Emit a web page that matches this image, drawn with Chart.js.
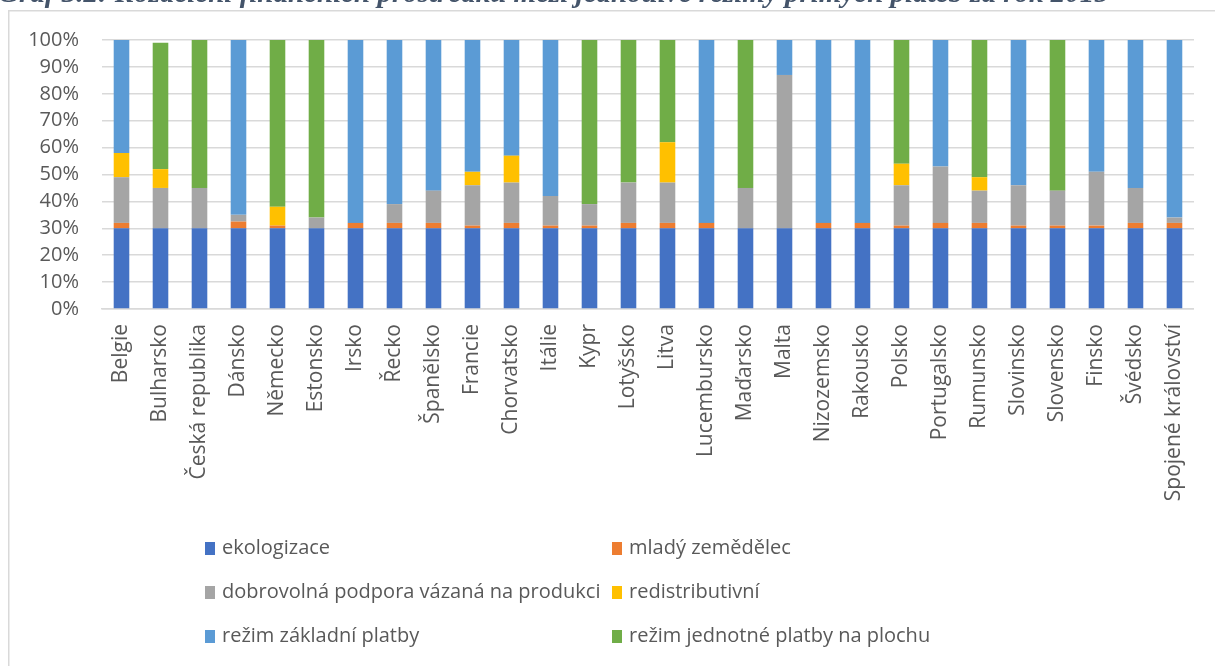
<!DOCTYPE html>
<html lang="cs">
<head>
<meta charset="utf-8">
<title>Rozdělení finančních prostředků mezi režimy přímých plateb 2015</title>
<script src="https://cdn.jsdelivr.net/npm/chart.js@4/dist/chart.umd.min.js"></script>
<style>
  html, body { margin: 0; padding: 0; background: #ffffff; overflow: hidden; }
  #wrap { position: relative; width: 1215px; height: 666px; }
  canvas { display: block; }
</style>
</head>
<body>
<div id="wrap"><canvas id="c" width="1215" height="666"></canvas></div>
<script>
// Členské státy EU
const categories = [
  'Belgie', 'Bulharsko', 'Česká republika', 'Dánsko', 'Německo', 'Estonsko', 'Irsko',
  'Řecko', 'Španělsko', 'Francie', 'Chorvatsko', 'Itálie', 'Kypr', 'Lotyšsko', 'Litva',
  'Lucembursko', 'Maďarsko', 'Malta', 'Nizozemsko', 'Rakousko', 'Polsko', 'Portugalsko',
  'Rumunsko', 'Slovinsko', 'Slovensko', 'Finsko', 'Švédsko', 'Spojené království'
];

// Podíly jednotlivých režimů (v %)
const ekologizace = [30, 30, 30, 30, 30, 30, 30, 30, 30, 30, 30, 30, 30, 30, 30, 30, 30, 30, 30, 30, 30, 30, 30, 30, 30, 30, 30, 30];
const mladyZemedelec = [2, 0, 0, 2.5, 1, 0, 2, 2, 2, 1, 2, 1, 1, 2, 2, 2, 0, 0, 2, 2, 1, 2, 2, 1, 1, 1, 2, 2];
const vazanaPodpora = [17, 15, 15, 2.5, 0, 4, 0, 7, 12, 15, 15, 11, 8, 15, 15, 0, 15, 57, 0, 0, 15, 21, 12, 15, 13, 20, 13, 2];
const redistributivni = [9, 7, 0, 0, 7, 0, 0, 0, 0, 5, 10, 0, 0, 0, 15, 0, 0, 0, 0, 0, 8, 0, 5, 0, 0, 0, 0, 0];
const zakladniPlatba = [42, 0, 0, 65, 0, 0, 68, 61, 56, 49, 43, 58, 0, 0, 0, 68, 0, 13, 68, 68, 0, 47, 0, 54, 0, 49, 55, 66];
const jednotnaPlatba = [0, 47, 55, 0, 62, 66, 0, 0, 0, 0, 0, 0, 61, 53, 38, 0, 55, 0, 0, 0, 46, 0, 51, 0, 56, 0, 0, 0];

const yTicks = [0, 10, 20, 30, 40, 50, 60, 70, 80, 90, 100];

const seriesNames = [
  'ekologizace', 'mladý zemědělec', 'dobrovolná podpora vázaná na produkci',
  'redistributivní', 'režim základní platby', 'režim jednotné platby na plochu'
];
const seriesValues = [ekologizace, mladyZemedelec, vazanaPodpora, redistributivni, zakladniPlatba, jednotnaPlatba];
const seriesColors = ['#4472C4', '#ED7D31', '#A5A5A5', '#FFC000', '#5B9BD5', '#70AD47'];

const FONT = '"Open Sans", "DejaVu Sans", sans-serif';
const TEXT = '#595959';

// Rámeček grafu a popisek nad ním
const framePlugin = {
  id: 'frame',
  beforeDraw(chart) {
    const ctx = chart.ctx;
    ctx.save();
    ctx.strokeStyle = '#D9D9D9';
    ctx.lineWidth = 1.5;
    ctx.strokeRect(8.75, 10.75, 1220, 700);
    ctx.font = 'italic bold 29px "Liberation Serif", "DejaVu Serif", serif';
    ctx.fillStyle = '#44546A';
    ctx.textBaseline = 'alphabetic';
    ctx.textAlign = 'left';
    ctx.fillText('Graf 3.2: Rozdělení finančních prostředků mezi jednotlivé režimy přímých plateb za rok 2015', -2, 2);
    ctx.restore();
  }
};

// Legenda ve dvou sloupcích
const gridLegend = {
  id: 'gridLegend',
  afterDraw(chart) {
    const ctx = chart.ctx;
    const cols = [205, 612];
    const rows = [548, 592, 636];
    ctx.save();
    ctx.font = '20px ' + FONT;
    ctx.textBaseline = 'middle';
    ctx.textAlign = 'left';
    chart.data.datasets.forEach((ds, i) => {
      const x = cols[i % 2];
      const y = rows[Math.floor(i / 2)];
      ctx.fillStyle = ds.backgroundColor;
      ctx.fillRect(x, y - 6, 10, 13);
      ctx.fillStyle = TEXT;
      ctx.fillText(ds.label, x + 17, y);
    });
    ctx.restore();
  }
};

new Chart(document.getElementById('c'), {
  type: 'bar',
  data: {
    labels: categories,
    datasets: seriesNames.map((name, i) => ({
      label: name,
      data: seriesValues[i],
      backgroundColor: seriesColors[i],
      borderWidth: 0,
      categoryPercentage: 1.0,
      barPercentage: 0.4
    }))
  },
  options: {
    responsive: false,
    animation: false,
    devicePixelRatio: 1,
    layout: { padding: { top: 40, right: 18, bottom: 0, left: 0 } },
    plugins: {
      legend: { display: false },
      tooltip: { enabled: false },
      title: { display: false }
    },
    scales: {
      x: {
        stacked: true,
        grid: { display: false, drawTicks: false },
        border: { display: true, color: '#D9D9D9', width: 1.5 },
        ticks: {
          autoSkip: false,
          minRotation: 90,
          maxRotation: 90,
          padding: 15,
          color: TEXT,
          font: { family: FONT, size: 21 }
        },
        afterFit(scale) { scale.height = 357; }
      },
      y: {
        stacked: true,
        min: 0,
        max: 100,
        afterBuildTicks(scale) { scale.ticks = yTicks.map(v => ({ value: v })); },
        grid: { color: '#D9D9D9', lineWidth: 1.5, drawTicks: false },
        border: { display: false },
        ticks: {
          autoSkip: false,
          stepSize: 10,
          padding: 23,
          color: TEXT,
          font: { family: FONT, size: 20 },
          callback: v => v + '%'
        },
        afterFit(scale) { scale.width = 102; }
      }
    }
  },
  plugins: [framePlugin, gridLegend]
});
</script>
</body>
</html>
